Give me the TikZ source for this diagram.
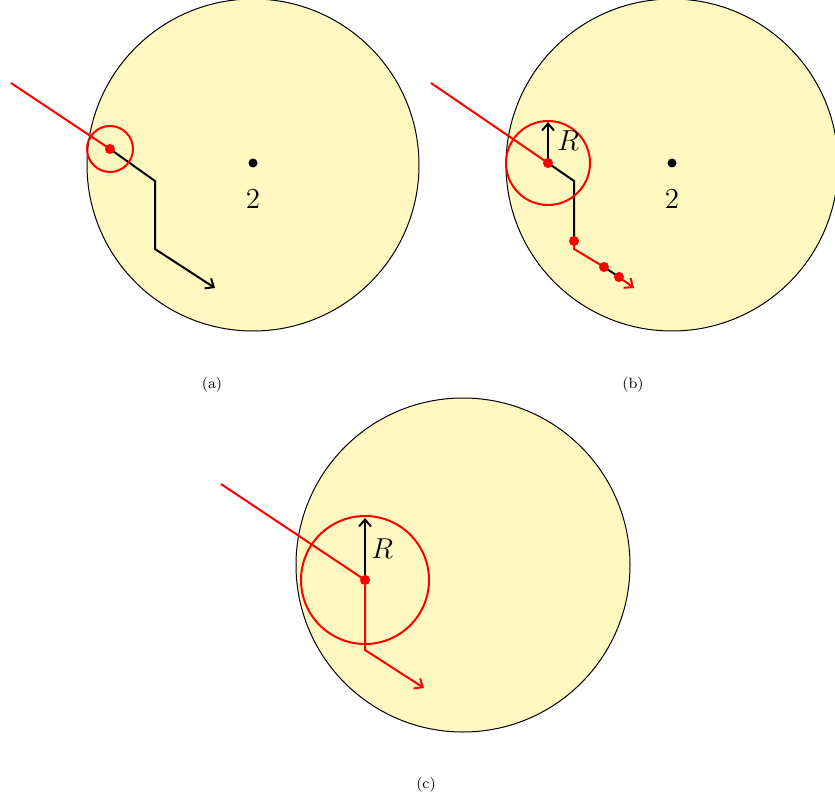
\documentclass[tikz,border=0pt]{standalone}
\usepackage{tikz}
\usetikzlibrary{arrows.meta}
\definecolor{diskfill}{RGB}{255,248,193}

\begin{document}
\begin{tikzpicture}[
    x=0.5pt, y=-0.5pt,
    disk/.style={draw=black, line width=0.5pt, fill=diskfill},
    track/.style={line width=1pt, line join=miter},
    ring/.style={draw=red, line width=1pt},
    hit/.style={circle, fill=red, inner sep=0pt, minimum size=5pt},
    centre/.style={circle, fill=black, inner sep=0pt, minimum size=4.5pt},
    arrow/.style={track, -{Straight Barb[length=3.5pt, width=6pt]}},
    lbl/.style={font=\fontsize{14.5}{17}\selectfont, inner sep=0pt, anchor=base},
    rlbl/.style={font=\fontsize{14}{17}\selectfont, inner sep=0pt, anchor=base west},
    panel/.style={font=\fontsize{7.5}{9}\selectfont}
]
\useasboundingbox (0,0) rectangle (835,802);

% (a)
\draw[disk] (253,165) circle[radius=166];
\node[centre] (ca) at (253,163) {};
\node[lbl] (na) at (253,209) {2};
\coordinate (a0) at (11,83);
\coordinate (a1) at (110,149);
\coordinate (a2) at (155,181);
\coordinate (a3) at (155,249);
\coordinate (a4) at (215,288);
\draw[track, red] (a0) -- (a1);
\draw[arrow] (a1) -- (a2) -- (a3) -- (a4);
\draw[ring] (a1) circle[radius=23];
\node[hit] at (a1) {};
\node[panel] at (212,385) {(a)};

% (b)
\draw[disk] (672,165) circle[radius=166];
\node[centre] (cb) at (672,163) {};
\node[lbl] (nb) at (672,209) {2};
\coordinate (b0) at (431,83);
\coordinate (b1) at (548,163);
\coordinate (b2) at (574,181);
\coordinate (b3) at (574,241);
\coordinate (b4) at (574,249);
\coordinate (b5) at (604,267);
\coordinate (b6) at (619,277);
\coordinate (b7) at (634,288);
\coordinate (bR) at (548,122);
\draw[track, red] (b0) -- (b1);
\draw[track] (b1) -- (b2) -- (b3);
\draw[track, red] (b3) -- (b4) -- (b5);
\draw[track] (b5) -- (b6);
\draw[arrow, red] (b6) -- (b7);
\draw[ring] (b1) circle[radius=42];
\draw[arrow] (b1) -- (bR);
\node[rlbl] (rb) at (557,151) {$R$};
\node[hit] at (b1) {};
\node[hit] at (b3) {};
\node[hit] at (b5) {};
\node[hit] at (b6) {};
\node[panel] at (633,385) {(b)};

% (c)
\draw[disk] (463,565) circle[radius=167];
\coordinate (c0) at (221,484);
\coordinate (c1) at (365,580);
\coordinate (c2) at (365,650);
\coordinate (c3) at (424,688);
\coordinate (cR) at (365,518);
\draw[track, red] (c0) -- (c1);
\draw[arrow, red] (c1) -- (c2) -- (c3);
\draw[ring] (c1) circle[radius=64];
\draw[arrow] (c1) -- (cR);
\node[rlbl] (rc) at (371,558) {$R$};
\node[hit] at (c1) {};
\node[panel] at (426,785) {(c)};

\end{tikzpicture}
\end{document}
